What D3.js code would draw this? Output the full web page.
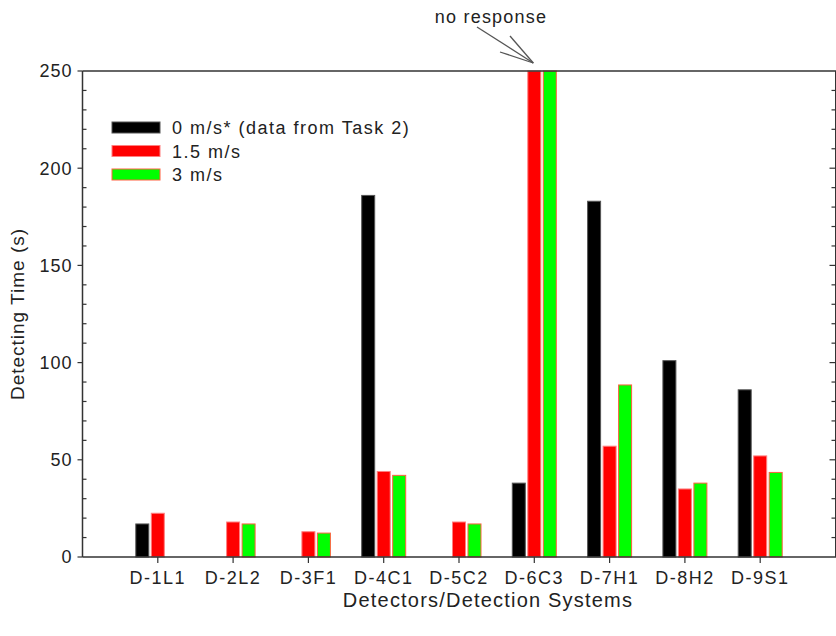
<!DOCTYPE html>
<html>
<head>
  <meta charset="utf-8"/>
  <title>Detecting time</title>
  <script src="https://d3js.org/d3.v7.min.js"></script>
  <style>
    body { margin: 0; background: #fff; }
    text { font-family: "Liberation Sans", Arial, sans-serif; fill: #222; }
  </style>
</head>
<body>
  <div id="chart"></div>
  <script>
    // data (null = no bar)
    var detectors = ['D-1L1', 'D-2L2', 'D-3F1', 'D-4C1', 'D-5C2', 'D-6C3', 'D-7H1', 'D-8H2', 'D-9S1'];
    var still = [17, null, null, 186, null, 38, 183, 101, 86];
    var speed15 = [22.5, 18, 13, 44, 18, 250, 57, 35, 52];
    var speed3 = [null, 17, 12.3, 42, 17, 250, 88.5, 38, 43.5];
    var seriesNames = ['0 m/s* (data from Task 2)', '1.5 m/s', '3 m/s'];
    var yTicks = [0, 50, 100, 150, 200, 250];

    var series = [
      { name: seriesNames[0], values: still, fill: '#000000', stroke: '#555555', off: -1 },
      { name: seriesNames[1], values: speed15, fill: '#ff0000', stroke: '#ff8080', off: 0 },
      { name: seriesNames[2], values: speed3, fill: '#00ff00', stroke: '#ff6040', off: 1 }
    ];

    var width = 836, height = 636;
    var svg = d3.select('#chart').append('svg')
      .attr('width', width).attr('height', height);

    var mLeft = 82.5, mRight = 835.5, mTop = 71, mBottom = 557;

    var x = d3.scaleLinear().domain([0, detectors.length + 1]).range([mLeft, mRight]);
    var y = d3.scaleLinear().domain([0, 250]).range([mBottom, mTop]);
    var barW = 13, step = 15.5;

    // bars
    series.forEach(function (s) {
      svg.append('g').selectAll('rect')
        .data(s.values.map(function (v, i) { return { v: v, i: i }; }).filter(function (d) { return d.v != null; }))
        .enter().append('rect')
        .attr('x', function (d) { return x(d.i + 1) + s.off * step - barW / 2; })
        .attr('y', function (d) { return y(d.v); })
        .attr('width', barW)
        .attr('height', function (d) { return y(0) - y(d.v); })
        .attr('fill', s.fill)
        .attr('stroke', s.stroke)
        .attr('stroke-width', 1);
    });

    // frame
    var axisColor = '#333';
    svg.append('line').attr('x1', mLeft).attr('x2', width).attr('y1', mTop).attr('y2', mTop)
      .attr('stroke', axisColor).attr('stroke-width', 1.5);
    svg.append('line').attr('x1', mLeft).attr('x2', width).attr('y1', mBottom).attr('y2', mBottom)
      .attr('stroke', axisColor).attr('stroke-width', 1.5);
    svg.append('line').attr('x1', mLeft).attr('x2', mLeft).attr('y1', mTop).attr('y2', mBottom)
      .attr('stroke', axisColor).attr('stroke-width', 1.5);
    svg.append('line').attr('x1', mRight).attr('x2', mRight).attr('y1', mTop).attr('y2', mBottom)
      .attr('stroke', axisColor).attr('stroke-width', 1);

    // y axis: major ticks outward, minor ticks inward
    var minor = d3.range(0, 251, 10).filter(function (v) { return v % 50 !== 0; });
    var yAxis = svg.append('g');
    yAxis.selectAll('line.major').data(yTicks).enter().append('line')
      .attr('x1', mLeft - 5).attr('x2', mLeft)
      .attr('y1', function (d) { return y(d); }).attr('y2', function (d) { return y(d); })
      .attr('stroke', axisColor).attr('stroke-width', 1.2);
    yAxis.selectAll('line.minor').data(minor).enter().append('line')
      .attr('x1', mLeft).attr('x2', mLeft + 4)
      .attr('y1', function (d) { return y(d); }).attr('y2', function (d) { return y(d); })
      .attr('stroke', axisColor).attr('stroke-width', 1.2);
    yAxis.selectAll('text').data(yTicks).enter().append('text')
      .attr('x', mLeft - 10).attr('y', function (d) { return y(d); })
      .attr('dy', '0.36em').attr('text-anchor', 'end')
      .style('font-size', '18px').style('letter-spacing', '1px')
      .text(function (d) { return d; });

    // right axis ticks (inward)
    svg.append('g').selectAll('line').data(d3.range(10, 250, 10)).enter().append('line')
      .attr('x1', function (d) { return d % 50 === 0 ? mRight - 6 : mRight - 4; }).attr('x2', mRight)
      .attr('y1', function (d) { return y(d); }).attr('y2', function (d) { return y(d); })
      .attr('stroke', axisColor).attr('stroke-width', 1.2);

    // x axis ticks and labels
    var xAxis = svg.append('g');
    xAxis.selectAll('line').data(detectors).enter().append('line')
      .attr('x1', function (d, i) { return x(i + 1); }).attr('x2', function (d, i) { return x(i + 1); })
      .attr('y1', mBottom).attr('y2', mBottom + 6)
      .attr('stroke', axisColor).attr('stroke-width', 1.2);
    xAxis.selectAll('text').data(detectors).enter().append('text')
      .attr('x', function (d, i) { return x(i + 1); }).attr('y', mBottom + 27)
      .attr('text-anchor', 'middle').style('font-size', '18px').style('letter-spacing', '1.5px')
      .text(function (d) { return d; });

    // axis titles
    svg.append('text').attr('x', 488).attr('y', 607)
      .attr('text-anchor', 'middle').style('font-size', '20px').style('letter-spacing', '1.2px')
      .text('Detectors/Detection Systems');
    svg.append('text')
      .attr('transform', 'translate(24,' + ((mTop + mBottom) / 2) + ') rotate(-90)')
      .attr('text-anchor', 'middle').style('font-size', '19px').style('letter-spacing', '1px')
      .text('Detecting Time (s)');

    // legend
    var legend = svg.append('g').attr('transform', 'translate(112,122)');
    series.forEach(function (s, i) {
      var g = legend.append('g').attr('transform', 'translate(0,' + (i * 23.5) + ')');
      g.append('rect').attr('width', 48).attr('height', 11)
        .attr('fill', s.fill).attr('stroke', s.stroke).attr('stroke-width', 1);
      g.append('text').attr('x', 60).attr('y', 6).attr('dy', '0.36em')
        .style('font-size', '18px').style('letter-spacing', '1.5px').text(s.name);
    });

    // "no response" annotation
    var tip = [x(6) - 1, y(250) - 8];
    svg.append('text').attr('x', 491).attr('y', 23)
      .attr('text-anchor', 'middle').style('font-size', '18px').style('letter-spacing', '1.2px')
      .text('no response');
    var ann = svg.append('g').attr('stroke', '#555').attr('stroke-width', 1.3).attr('fill', 'none');
    ann.append('line').attr('x1', 477).attr('y1', 27).attr('x2', tip[0]).attr('y2', tip[1]);
    ann.append('line').attr('x1', 500).attr('y1', 52).attr('x2', tip[0]).attr('y2', tip[1]);
    ann.append('line').attr('x1', 510).attr('y1', 36).attr('x2', tip[0]).attr('y2', tip[1]);
  </script>
</body>
</html>
